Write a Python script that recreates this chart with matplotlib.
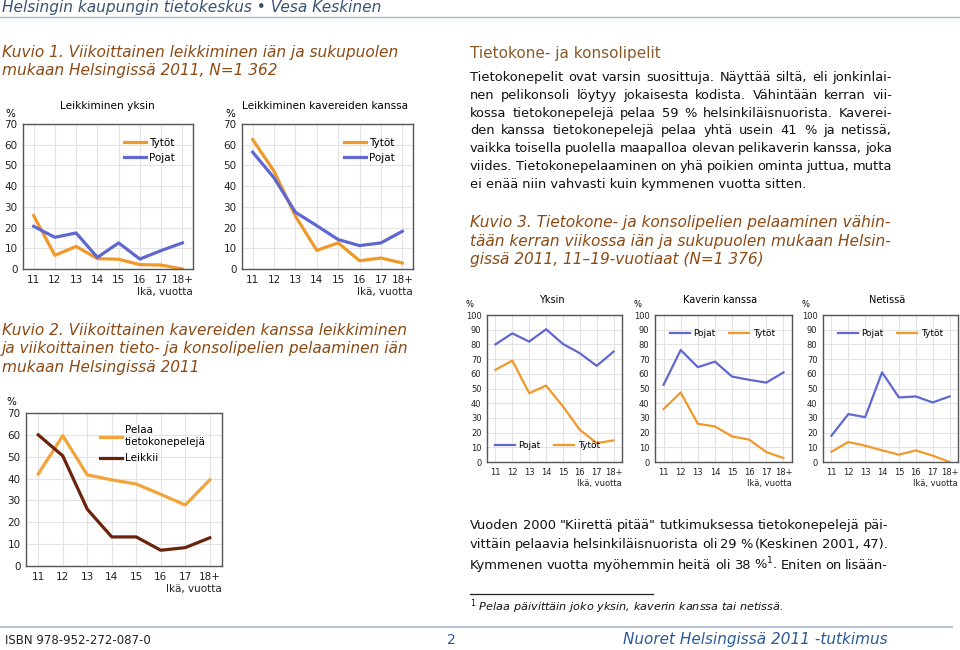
import matplotlib
matplotlib.use('Agg')
import matplotlib.pyplot as plt
from matplotlib.lines import Line2D

# ikäryhmät
ika = ['11', '12', '13', '14', '15', '16', '17', '18+']

# Kuvio 1
yksin_tytot = [25.8, 6.6, 10.9, 5.0, 4.7, 2.1, 1.9, 0.0]
yksin_pojat = [20.6, 15.3, 17.4, 5.6, 12.6, 4.8, 8.9, 12.6]
kaverit_tytot = [62.5, 47.2, 25.5, 9.0, 12.6, 4.0, 5.3, 2.9]
kaverit_pojat = [56.4, 44.0, 27.4, 20.9, 14.2, 11.3, 12.6, 18.2]

# Kuvio 2
pelaa = [42.1, 59.6, 41.7, 39.4, 37.5, 32.8, 27.9, 39.4]
leikkii = [60.0, 50.4, 26.0, 13.3, 13.3, 7.2, 8.4, 12.9]

# Kuvio 3
k3_yksin_pojat = [80.0, 87.5, 81.9, 90.3, 80.3, 74.0, 65.4, 75.1]
k3_yksin_tytot = [62.7, 69.0, 46.8, 52.0, 37.8, 21.9, 12.9, 14.7]
k3_kaveri_pojat = [52.5, 76.2, 64.5, 68.3, 58.1, 55.9, 54.0, 60.9]
k3_kaveri_tytot = [36.0, 47.3, 26.0, 24.2, 17.4, 15.2, 6.8, 2.7]
k3_netti_pojat = [17.9, 32.6, 30.5, 61.0, 43.9, 44.6, 40.5, 44.6]
k3_netti_tytot = [7.0, 13.6, 11.1, 7.9, 5.0, 7.9, 4.3, 0.0]

ORANSSI = '#f0982a'
SININEN = '#5e68d0'
ORANSSI2 = '#f2a33a'
RUSKEA = '#6a240c'
OTSIKKO = '#8c4a14'

W, H = 960, 650
fig = plt.figure(figsize=(9.6, 6.5), dpi=100)
r = fig.canvas.get_renderer()


def txt(x, y, s, **kw):
    return fig.text(x / W, 1 - y / H, s, **kw)


def leveys(s, **kw):
    t = txt(0, 0, s, **kw)
    w = t.get_window_extent(r).width
    t.remove()
    return w


def sovita(s, w, **kw):
    return 10 * w / leveys(s, fontsize=10, **kw)


def tasaa(s, x0, x1, y, **kw):
    sanat = s.split()
    ws = [leveys(w, **kw) for w in sanat]
    vali = (x1 - x0 - sum(ws)) / (len(sanat) - 1)
    x = x0
    for w, wd in zip(sanat, ws):
        txt(x, y, w, va='baseline', **kw)
        x += wd + vali


def viiva(x0, x1, y, color, lw=1):
    fig.add_artist(Line2D([x0 / W, x1 / W], [1 - y / H, 1 - y / H],
                          color=color, lw=lw))


def kuvio(x0, y0, x1, y1, ymax, ystep, sarjat, lw, fs):
    ax = fig.add_axes([x0 / W, 1 - y1 / H, (x1 - x0) / W, (y1 - y0) / H])
    for arvot, vari, nimi in sarjat:
        ax.plot(range(len(ika)), arvot, color=vari, lw=lw, label=nimi)
    ax.set_xlim(-0.5, 7.5)
    ax.set_ylim(0, ymax)
    ax.set_xticks(range(len(ika)))
    ax.set_xticklabels(ika)
    ax.set_yticks(range(0, ymax + 1, ystep))
    ax.grid(color='#e3e3e3', lw=0.8)
    ax.set_axisbelow(True)
    for s in ax.spines.values():
        s.set_color('#555555')
        s.set_linewidth(1)
    ax.tick_params(length=0, labelsize=fs, pad=4, colors='#222222')
    ax.set_xlabel('Ikä, vuotta', loc='right', fontsize=fs, labelpad=2,
                  color='#222222')
    return ax


# ylätunniste
txt(2, 12, 'Helsingin kaupungin tietokeskus \u2022 Vesa Keskinen',
    fontsize=sovita('Helsingin kaupungin tietokeskus \u2022 Vesa Keskinen', 378,
                    style='italic'),
    style='italic', color='#3a5272', va='baseline')
viiva(0, 960, 16.5, '#9fb8d6', 1)

# Kuvio 1
k_fs = sovita('Kuvio 1. Viikoittainen leikkiminen iän ja sukupuolen', 396,
              style='italic')
txt(2, 57, 'Kuvio 1. Viikoittainen leikkiminen iän ja sukupuolen',
    fontsize=k_fs, style='italic', color=OTSIKKO, va='baseline')
txt(2, 75, 'mukaan Helsingissä 2011, N=1 362',
    fontsize=k_fs, style='italic', color=OTSIKKO, va='baseline')

ax = kuvio(23, 124, 193, 269, 70, 10,
           [(yksin_tytot, ORANSSI, 'Tytöt'), (yksin_pojat, SININEN, 'Pojat')],
           2.3, 7.5)
ax.legend(loc='upper left', bbox_to_anchor=(0.54, 0.97), frameon=False,
          fontsize=7.5, handlelength=2.1, handletextpad=0.3, labelspacing=0.5)
txt(107, 109, 'Leikkiminen yksin', fontsize=7.6, ha='center', va='baseline')
txt(5, 117, '%', fontsize=7.5, va='baseline')

ax = kuvio(242, 124, 413, 269, 70, 10,
           [(kaverit_tytot, ORANSSI, 'Tytöt'), (kaverit_pojat, SININEN, 'Pojat')],
           2.3, 7.5)
ax.legend(loc='upper left', bbox_to_anchor=(0.54, 0.97), frameon=False,
          fontsize=7.5, handlelength=2.1, handletextpad=0.3, labelspacing=0.5)
txt(325, 109, 'Leikkiminen kavereiden kanssa', fontsize=7.6, ha='center',
    va='baseline')
txt(225, 117, '%', fontsize=7.5, va='baseline')

# Kuvio 2
txt(2, 335, 'Kuvio 2. Viikoittainen kavereiden kanssa leikkiminen',
    fontsize=k_fs, style='italic', color=OTSIKKO, va='baseline')
txt(2, 353, 'ja viikoittainen tieto- ja konsolipelien pelaaminen iän',
    fontsize=k_fs, style='italic', color=OTSIKKO, va='baseline')
txt(2, 372, 'mukaan Helsingissä 2011',
    fontsize=k_fs, style='italic', color=OTSIKKO, va='baseline')

ax = kuvio(26, 413, 222, 566, 70, 10,
           [(pelaa, ORANSSI2, 'Pelaa\ntietokonepelejä'),
            (leikkii, RUSKEA, 'Leikkii')],
           2.3, 7.5)
ax.legend(loc='upper left', bbox_to_anchor=(0.33, 0.98), frameon=False,
          fontsize=7.5, handlelength=2.1, handletextpad=0.3, labelspacing=0.6)
txt(6, 405, '%', fontsize=7.5, va='baseline')

# teksti oikealla
txt(470, 58, 'Tietokone- ja konsolipelit', fontsize=11, color='#8a5a2a',
    va='baseline')
kappale = [
    'Tietokonepelit ovat varsin suosittuja. Näyttää siltä, eli jonkinlai-',
    'nen pelikonsoli löytyy jokaisesta kodista. Vähintään kerran vii-',
    'kossa tietokonepelejä pelaa 59 % helsinkiläisnuorista. Kaverei-',
    'den kanssa tietokonepelejä pelaa yhtä usein 41 % ja netissä,',
    'vaikka toisella puolella maapalloa olevan pelikaverin kanssa, joka',
    'viides. Tietokonepelaaminen on yhä poikien ominta juttua, mutta',
    'ei enää niin vahvasti kuin kymmenen vuotta sitten.',
]
p_fs = sovita(kappale[-1], 334)
for i, rivi in enumerate(kappale[:-1]):
    tasaa(rivi, 470, 892, 81 + 17.8 * i, fontsize=p_fs, color='#111111')
txt(470, 81 + 17.8 * 6, kappale[-1], fontsize=p_fs, color='#111111',
    va='baseline')

# Kuvio 3
k3 = ['Kuvio 3. Tietokone- ja konsolipelien pelaaminen vähin-',
      'tään kerran viikossa iän ja sukupuolen mukaan Helsin-',
      'gissä 2011, 11\u201319-vuotiaat (N=1 376)']
for i, rivi in enumerate(k3):
    txt(470, 227 + 18.5 * i, rivi, fontsize=k_fs, style='italic',
        color=OTSIKKO, va='baseline')

pienet = [
    (487, 622, 'Yksin', k3_yksin_pojat, k3_yksin_tytot, (0.0, 0.2), 468),
    (655, 792, 'Kaverin kanssa', k3_kaveri_pojat, k3_kaveri_tytot,
     (0.05, 0.96), 636),
    (823, 958, 'Netissä', k3_netti_pojat, k3_netti_tytot, (0.05, 0.96), 803),
]
for x0, x1, nimi, pojat, tytot, paikka, px in pienet:
    ax = kuvio(x0, 315, x1, 462, 100, 10,
               [(pojat, SININEN, 'Pojat'), (tytot, ORANSSI, 'Tytöt')],
               1.6, 6)
    ax.legend(loc='upper left', bbox_to_anchor=paikka, frameon=False,
              fontsize=6.5, ncol=2, handlelength=2.2, handletextpad=0.4,
              columnspacing=1.5)
    txt((x0 + x1) / 2 - 3, 303, nimi, fontsize=7, ha='center', va='baseline')
    txt(px - 2, 307, '%', fontsize=6, va='baseline')

# alateksti
ala = ['Vuoden 2000 "Kiirettä pitää" tutkimuksessa tietokonepelejä päi-',
       'vittäin pelaavia helsinkiläisnuorista oli 29 % (Keskinen 2001, 47).',
       'Kymmenen vuotta myöhemmin heitä oli 38 %$^{1}$. Eniten on lisään-']
tasaa(ala[0], 470, 888, 529, fontsize=p_fs, color='#111111')
tasaa(ala[1], 470, 888, 548, fontsize=p_fs, color='#111111')
tasaa(ala[2], 470, 888, 569, fontsize=p_fs, color='#111111')
viiva(470, 653, 594, '#222222', 0.9)
txt(470, 611, '$^{1}$ Pelaa päivittäin joko yksin, kaverin kanssa tai netissä.',
    fontsize=p_fs * 0.87, style='italic', color='#111111', va='baseline')

# alatunniste
viiva(0, 952, 627, '#b8c4d4', 1.5)
txt(5, 644, 'ISBN 978-952-272-087-0', fontsize=8.5, color='#222222',
    va='baseline')
txt(447, 644, '2', fontsize=10, color='#2a5a9a', va='baseline')
txt(888, 644, 'Nuoret Helsingissä 2011 -tutkimus', fontsize=11,
    style='italic', color='#2a5a9a', ha='right', va='baseline')

fig.savefig('out.png', dpi=100)
